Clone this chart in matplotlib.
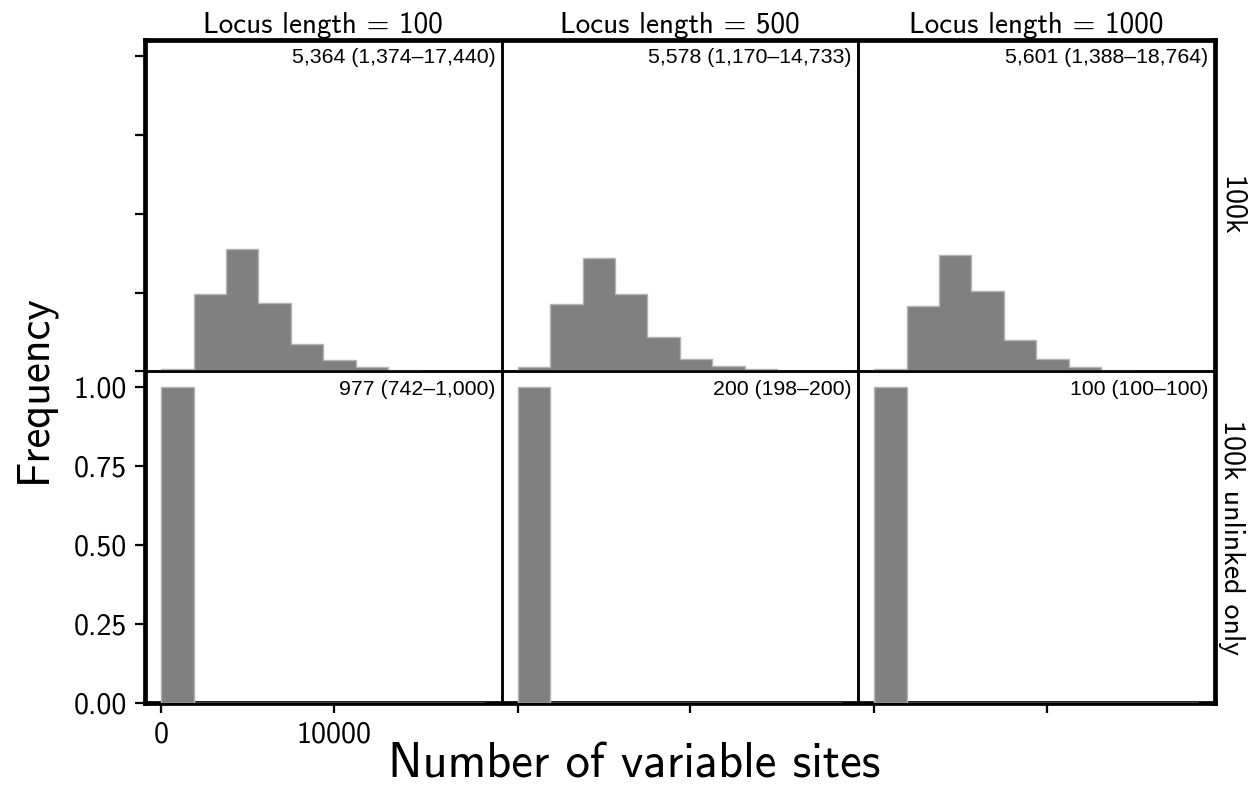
import matplotlib.pyplot as plt
import numpy as np

plt.rcParams['font.family'] = ['cmss10', 'DejaVu Sans']
plt.rcParams['axes.unicode_minus'] = False

locus_lengths = [100, 500, 1000]
row_names = ['100k', '100k unlinked only']

# shared bin edges, 0 .. largest count seen
max_sites = 18764
n_bins = 10

# fraction of replicates per bin, one list per locus length
freq_all = [
    [0.009, 0.246, 0.387, 0.218, 0.086, 0.035, 0.015, 0.004, 0.003, 0.002],
    [0.013, 0.215, 0.361, 0.244, 0.109, 0.038, 0.016, 0.007, 0.003, 0.001],
    [0.009, 0.208, 0.370, 0.256, 0.101, 0.039, 0.013, 0.004, 0.003, 0.002],
]
freq_unlinked = [
    [1.0, 0, 0, 0, 0, 0, 0, 0, 0, 0],
    [1.0, 0, 0, 0, 0, 0, 0, 0, 0, 0],
    [1.0, 0, 0, 0, 0, 0, 0, 0, 0, 0],
]

summary_all = ['5,364 (1,374–17,440)', '5,578 (1,170–14,733)', '5,601 (1,388–18,764)']
summary_unlinked = ['977 (742–1,000)', '200 (198–200)', '100 (100–100)']

edges = np.linspace(0, max_sites, n_bins + 1)

left, right, top, bottom = 0.1155, 0.967, 0.9495, 0.1124

fig = plt.figure(figsize=(12.56, 7.92), dpi=100)

# thick outer frame behind the panel grid
frame = fig.add_axes([left, bottom, right - left, top - bottom], zorder=-1)
frame.set_xticks([])
frame.set_yticks([])
for sp in frame.spines.values():
    sp.set_linewidth(3.4)

axes = fig.subplots(2, 3, sharex=True, sharey=True,
                    gridspec_kw=dict(left=left, right=right, top=top,
                                     bottom=bottom, wspace=0, hspace=0))
for ax in axes.flat:
    ax.patch.set_alpha(0)

rows = [(freq_all, summary_all), (freq_unlinked, summary_unlinked)]
for r, (freqs, notes) in enumerate(rows):
    for c in range(3):
        ax = axes[r, c]
        ax.hist(edges[:-1], bins=edges, weights=freqs[c], histtype='stepfilled',
                facecolor='#808080', edgecolor='#b4b4b4', linewidth=1)
        ax.text(0.983, 0.975, notes[c], transform=ax.transAxes,
                ha='right', va='top', fontsize=15.3,
                family=['Liberation Sans', 'DejaVu Sans'])
        for sp in ax.spines.values():
            sp.set_linewidth(1.8)
        ax.spines['bottom'].set_zorder(0.5)
        ax.tick_params(direction='out', length=7, width=1.6,
                       labelsize=21.5, pad=6)
        if r == 0:
            ax.set_title('Locus length = %d' % locus_lengths[c],
                         fontsize=21, pad=5)
        if c != 0:
            ax.tick_params(left=False, labelleft=False)
        if not (r == 1 and c == 0):
            ax.tick_params(labelbottom=False)
        if r == 0:
            ax.tick_params(bottom=False)

axes[0, 0].set_yticks([0, 0.25, 0.5, 0.75, 1.0])
axes[1, 0].set_xticks([0, 10000])
axes[1, 0].yaxis.set_major_formatter(plt.FormatStrFormatter('%.2f'))
axes[0, 0].tick_params(labelleft=False)
axes[1, 0].tick_params(labelleft=True)

for r, name in enumerate(row_names):
    axes[r, 2].yaxis.set_label_position('right')
    axes[r, 2].set_ylabel(name, rotation=270, fontsize=21.5, labelpad=22)

fig.text(0.027, 0.51, 'Frequency', rotation=90,
         ha='center', va='center', fontsize=32)
fig.text(0.505, 0.034, 'Number of variable sites',
         ha='center', va='center', fontsize=35)

fig.savefig('out.png', dpi=100)
